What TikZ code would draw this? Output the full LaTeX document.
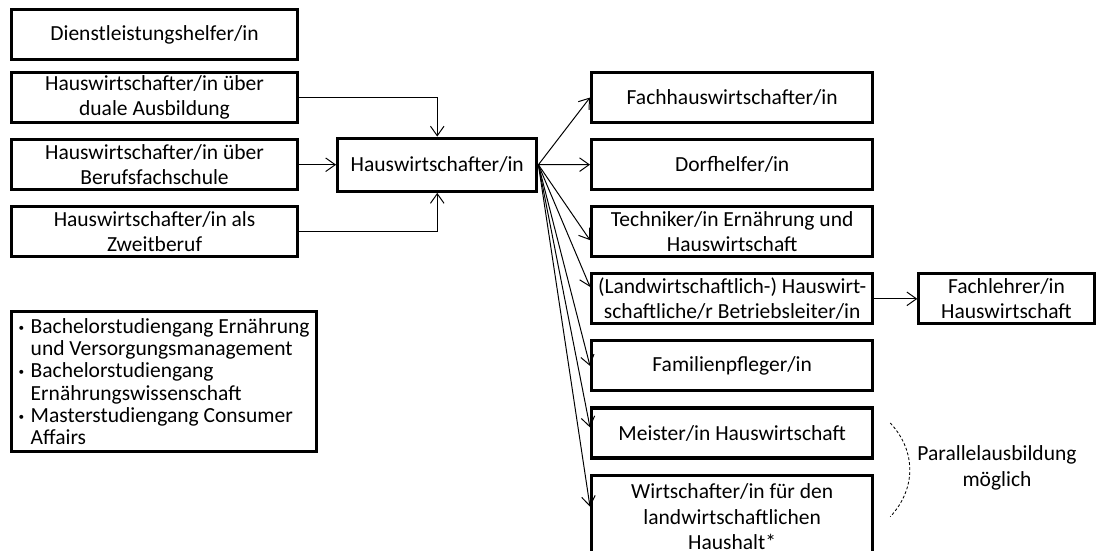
\documentclass[tikz,border=0pt]{standalone}
\usepackage{fontspec}
\setmainfont{Carlito}
\usetikzlibrary{arrows.meta,positioning}

\begin{document}
\begin{tikzpicture}[node distance=0.35cm and 0.925cm, >={Straight Barb[length=2.4mm,width=3.4mm]},
  txt/.style = {font=\fontsize{15.3}{18}\selectfont},
  box/.style = {txt, draw, line width=2.2pt, align=center, inner sep=1pt},
  srcbox/.style = {box, minimum width=7.15cm, minimum height=1.25cm},
  jobbox/.style = {box, minimum width=7.03cm, minimum height=1.25cm},
  link/.style = {->, line width=0.7pt}]
\useasboundingbox (0,0) rectangle (27.425,-13.775);
% Zugaenge links
\node[srcbox, anchor=north west] (dienst) at (0.25,-0.2) {Dienstleistungshelfer/in};
\node[srcbox, below=0.25cm of dienst] (duale) {Hauswirtschafter/in über\\duale Ausbildung};
\node[srcbox, below=of duale] (berufs) {Hauswirtschafter/in über\\Berufsfachschule};
\node[srcbox, below=of berufs] (zweit) {Hauswirtschafter/in als\\Zweitberuf};
\node[box, minimum width=4.98cm, minimum height=1.33cm, right=of berufs] (hw) {Hauswirtschafter/in};
\node[box, anchor=north west, align=left, minimum width=7.63cm, minimum height=3.5cm,
  font=\fontsize{15.3}{15.9}\selectfont] (studium) at (0.25,-7.75)
  {\makebox[3mm][l]{\raisebox{0.2ex}{\footnotesize\textbullet}}Bachelorstudiengang Ernährung\\
   \hspace*{3mm}und Versorgungsmanagement\\
   \makebox[3mm][l]{\raisebox{0.2ex}{\footnotesize\textbullet}}Bachelorstudiengang\\
   \hspace*{3mm}Ernährungswissenschaft\\
   \makebox[3mm][l]{\raisebox{0.2ex}{\footnotesize\textbullet}}Masterstudiengang Consumer\\
   \hspace*{3mm}Affairs};
% Weiterbildung rechts
\node[jobbox, anchor=north west] (fach) at (14.75,-1.775) {Fachhauswirtschafter/in};
\node[jobbox, below=of fach] (dorf) {Dorfhelfer/in};
\node[jobbox, below=of dorf] (tech) {Techniker/in Ernährung und\\Hauswirtschaft};
\node[jobbox, below=of tech] (landw) {(Landwirtschaftlich-) Hauswirt-\\schaftliche/r Betriebsleiter/in};
\node[jobbox, below=of landw] (fam) {Familienpfleger/in};
\node[jobbox, below=of fam] (meister) {Meister/in Hauswirtschaft};
\node[jobbox, minimum height=2.08cm, below=of meister] (wirt) {Wirtschafter/in für den\\landwirtschaftlichen\\Haushalt*};
\node[box, minimum width=4.38cm, minimum height=1.25cm, right=1.075cm of landw] (lehrer) {Fachlehrer/in\\Hauswirtschaft};
\node[txt, align=center] (parallel) at (24.925,-11.7) {Parallelausbildung\\möglich};
\coordinate (arctop) at ([xshift=0.4cm,yshift=0.25cm]meister.east);
\coordinate (arcbot) at ([xshift=0.4cm,yshift=0cm]wirt.east);
% Pfeile
\draw[link] (duale.east) -| (hw.north);
\draw[link] (berufs) -- (hw);
\draw[link] (zweit.east) -| (hw.south);
\draw[link] (hw.east) -- (fach.west);
\draw[link] (hw.east) -- (dorf.west);
\draw[link] (hw.east) -- ([yshift=-0.21cm]tech.west);
\draw[link] (hw.east) -- ([yshift=0.3cm]landw.west);
\draw[link] (hw.east) -- (fam.west);
\draw[link] (hw.east) -- ([yshift=0.14cm]meister.west);
\draw[link] (hw.east) -- ([yshift=0.25cm]wirt.west);
\draw[link] (landw) -- (lehrer);
\draw[dash pattern=on 2pt off 1.5pt, line width=0.6pt] (arctop) .. controls +(0.65,-0.7) and +(0.65,0.7) .. (arcbot);
\end{tikzpicture}
\end{document}
